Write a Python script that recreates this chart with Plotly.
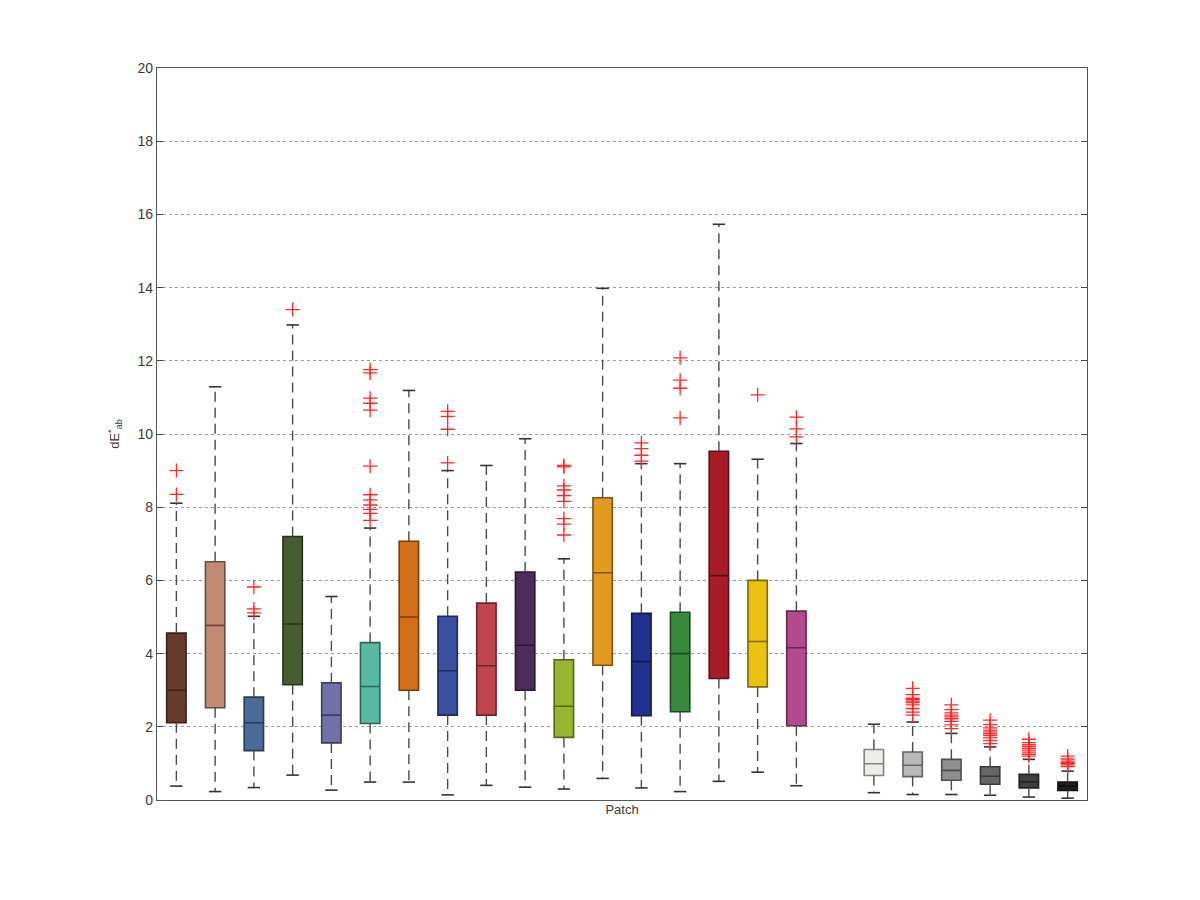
import plotly.graph_objects as go

# ---- data ----
positions = [1, 2, 3, 4, 5, 6, 7, 8, 9, 10, 11, 12, 13, 14, 15, 16, 17, 19, 20, 21, 22, 23, 24]
q1 = [2.11, 2.52, 1.35, 3.15, 1.56, 2.09, 3.00, 2.32, 2.32, 3.00, 1.71, 3.68, 2.30, 2.41, 3.32, 3.09, 2.03,
      0.67, 0.64, 0.54, 0.43, 0.33, 0.26]
median = [3.00, 4.77, 2.11, 4.81, 2.32, 3.10, 5.00, 3.53, 3.67, 4.23, 2.56, 6.21, 3.78, 4.00, 6.13, 4.33, 4.16,
          0.99, 0.95, 0.81, 0.65, 0.49, 0.38]
q3 = [4.56, 6.51, 2.81, 7.20, 3.20, 4.30, 7.07, 5.02, 5.38, 6.23, 3.83, 8.26, 5.10, 5.13, 9.53, 6.00, 5.16,
      1.38, 1.31, 1.11, 0.91, 0.70, 0.49]
whisker_low = [0.38, 0.23, 0.34, 0.68, 0.27, 0.49, 0.49, 0.14, 0.40, 0.35, 0.30, 0.59, 0.33, 0.23, 0.51, 0.76, 0.39,
               0.20, 0.15, 0.15, 0.13, 0.08, 0.05]
whisker_high = [8.11, 11.29, 5.02, 12.98, 5.56, 7.43, 11.19, 9.00, 9.14, 9.87, 6.59, 13.98, 9.19, 9.19, 15.73, 9.31, 9.74,
                2.07, 2.13, 1.82, 1.45, 1.11, 0.79]
outliers = [
    [9.0, 8.35],
    [],
    [5.82, 5.22, 5.11],
    [13.4],
    [],
    [11.76, 11.67, 10.98, 10.84, 10.65, 9.12, 8.34, 8.20, 8.06, 7.94, 7.83, 7.64],
    [],
    [10.62, 10.48, 10.13, 9.21],
    [],
    [],
    [9.14, 9.10, 8.58, 8.47, 8.32, 8.16, 7.69, 7.54, 7.24],
    [],
    [9.76, 9.60, 9.42, 9.26],
    [12.08, 11.47, 11.25, 10.44],
    [],
    [11.07],
    [10.46, 10.14, 9.92],
    [],
    [3.05, 2.88, 2.78, 2.74, 2.70, 2.66, 2.60, 2.50, 2.40, 2.32],
    [2.60, 2.47, 2.38, 2.32, 2.27, 2.22, 2.15, 2.05, 1.95],
    [2.18, 2.06, 1.97, 1.91, 1.86, 1.81, 1.76, 1.70, 1.62, 1.54],
    [1.66, 1.57, 1.51, 1.46, 1.41, 1.36, 1.31, 1.25, 1.20],
    [1.20, 1.12, 1.06, 1.02, 0.99, 0.96, 0.91],
]
fill_colors = ["#673b2b", "#c28a74", "#4a6b97", "#475d2f", "#7170a8", "#57b9a1", "#d66e18", "#3a4f9e",
               "#c0454f", "#4d2b5a", "#98b52f", "#e39a1f", "#212f8e", "#378a3c", "#a81c28", "#e8c20f",
               "#b34a8d", "#ededE7", "#b9b9b9", "#8f8f8f", "#666666", "#3f3f3f", "#1e1e1e"]
y_ticks = [0, 2, 4, 6, 8, 10, 12, 14, 16, 18, 20]


def darker(hexcol, f=0.55):
    h = hexcol.lstrip("#")
    r, g, b = int(h[0:2], 16), int(h[2:4], 16), int(h[4:6], 16)
    return "rgb(%d,%d,%d)" % (int(r * f), int(g * f), int(b * f))


fig = go.Figure()

# boxes
for i, p in enumerate(positions):
    fig.add_trace(go.Box(
        x=[p], q1=[q1[i]], median=[median[i]], q3=[q3[i]],
        lowerfence=[q1[i]], upperfence=[q3[i]],
        width=0.5, whiskerwidth=0,
        fillcolor=fill_colors[i],
        line=dict(color=darker(fill_colors[i]), width=1.6),
        boxpoints=False, showlegend=False, hoverinfo="skip",
    ))

# dashed whiskers
wx, wy = [], []
for i, p in enumerate(positions):
    wx += [p, p, None, p, p, None]
    wy += [q3[i], whisker_high[i], None, q1[i], whisker_low[i], None]
fig.add_trace(go.Scatter(x=wx, y=wy, mode="lines",
                         line=dict(color="#4a4a4a", width=1.4, dash="10px,6px"),
                         showlegend=False, hoverinfo="skip"))

# whisker caps
cap_half = 0.16
cx, cy = [], []
for i, p in enumerate(positions):
    cx += [p - cap_half, p + cap_half, None, p - cap_half, p + cap_half, None]
    cy += [whisker_high[i], whisker_high[i], None, whisker_low[i], whisker_low[i], None]
fig.add_trace(go.Scatter(x=cx, y=cy, mode="lines",
                         line=dict(color="#333333", width=1.6),
                         showlegend=False, hoverinfo="skip"))

# outliers
ox, oy = [], []
for i, p in enumerate(positions):
    for v in outliers[i]:
        ox.append(p)
        oy.append(v)
fig.add_trace(go.Scatter(x=ox, y=oy, mode="markers",
                         marker=dict(symbol="cross-thin-open", size=10, color="#ff2a2a",
                                     line=dict(color="#ff2a2a", width=1.3)),
                         showlegend=False, hoverinfo="skip"))

fig.update_layout(
    width=1200, height=900,
    margin=dict(l=149, r=121, t=60, b=108),
    paper_bgcolor="white", plot_bgcolor="white",
    font=dict(family="Liberation Sans, Arial, sans-serif", size=13, color="#3a3a3a"),
    boxmode="overlay",
)
fig.update_xaxes(
    range=[0.5, 24.5], showticklabels=False, ticks="", showgrid=False, zeroline=False,
    showline=True, linecolor="#555555", linewidth=1.2, mirror=True,
    title=dict(text="Patch", font=dict(size=13, color="#3a3a3a"), standoff=4),
)
fig.update_yaxes(
    range=[0, 20], tickvals=y_ticks, ticktext=[str(t) for t in y_ticks],
    ticks="inside", ticklen=6, tickcolor="#444444", tickwidth=1.2,
    showgrid=True, gridcolor="#9a9a9a", griddash="dot", gridwidth=1,
    zeroline=False, showline=True, linecolor="#555555", linewidth=1.2, mirror="ticks",
    tickfont=dict(size=14, color="#3a3a3a"),
    title=dict(text="dE<sup>*</sup><sub>ab</sub>", font=dict(size=13, color="#3a3a3a"), standoff=14),
)

fig.write_html("out.html")
